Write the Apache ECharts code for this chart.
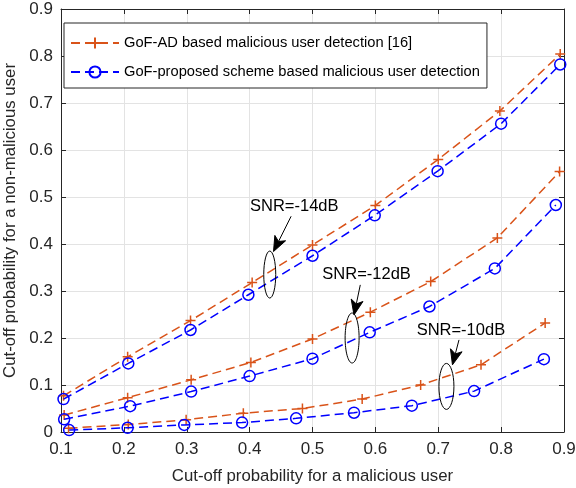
<!DOCTYPE html>
<html>
<head>
<meta charset="utf-8">
<script src="https://cdn.jsdelivr.net/npm/echarts@6/dist/echarts.min.js"></script>
<style>
  html, body { margin: 0; padding: 0; background: #fff; overflow: hidden; }
  #chart { width: 576px; height: 488px; }
</style>
</head>
<body>
<div id="chart"></div>
<script>
// ---- Data ----
const seriesNames = [
  'GoF-AD based malicious user detection [16]',
  'GoF-proposed scheme based malicious user detection'
];
const xTicks = ['0.1','0.2','0.3','0.4','0.5','0.6','0.7','0.8','0.9'];
const yTicks = ['0','0.1','0.2','0.3','0.4','0.5','0.6','0.7','0.8','0.9'];

// SNR = -14 dB
const adX14 = [0.104, 0.206, 0.306, 0.404, 0.500, 0.600, 0.700, 0.798, 0.894];
const adY14 = [0.077, 0.160, 0.237, 0.318, 0.398, 0.482, 0.580, 0.683, 0.804];
const prX14 = [0.104, 0.207, 0.306, 0.398, 0.500, 0.599, 0.699, 0.800, 0.894];
const prY14 = [0.070, 0.146, 0.217, 0.292, 0.375, 0.461, 0.555, 0.656, 0.782];
// SNR = -12 dB
const adX12 = [0.105, 0.206, 0.307, 0.402, 0.500, 0.592, 0.688, 0.794, 0.893];
const adY12 = [0.036, 0.073, 0.111, 0.148, 0.198, 0.255, 0.320, 0.413, 0.554];
const prX12 = [0.105, 0.210, 0.307, 0.400, 0.500, 0.591, 0.686, 0.790, 0.887];
const prY12 = [0.027, 0.055, 0.086, 0.119, 0.156, 0.212, 0.267, 0.348, 0.483];
// SNR = -10 dB
const adX10 = [0.112, 0.207, 0.299, 0.390, 0.484, 0.579, 0.672, 0.768, 0.870];
const adY10 = [0.008, 0.016, 0.026, 0.040, 0.050, 0.070, 0.100, 0.143, 0.232];
const prX10 = [0.113, 0.206, 0.296, 0.388, 0.474, 0.566, 0.658, 0.757, 0.868];
const prY10 = [0.004, 0.009, 0.015, 0.020, 0.029, 0.041, 0.056, 0.087, 0.155];

// Annotation labels and anchor points (data coordinates)
const annotations = [
  { text: 'SNR=-14dB', tx: 0.471, ty: 0.480, ex: 0.432, ey: 0.335, rx: 6, ry: 23.5, ax0: 0.466, ay0: 0.459, ax1: 0.438, ay1: 0.384 },
  { text: 'SNR=-12dB', tx: 0.586, ty: 0.335, ex: 0.563, ey: 0.200, rx: 7, ry: 25, ax0: 0.576, ay0: 0.313, ax1: 0.566, ay1: 0.249 },
  { text: 'SNR=-10dB', tx: 0.736, ty: 0.217, ex: 0.713, ey: 0.097, rx: 7.5, ry: 23, ax0: 0.733, ay0: 0.196, ax1: 0.7226, ay1: 0.143 }
];

const ORANGE = '#D95319';
const BLUE = '#0000FF';
const AXIS = '#262626';
const FONT = '"Liberation Sans", Arial, Helvetica, sans-serif';
const PLUS = 'path://M0,5L10,5M5,0L5,10';

function zip(xs, ys) { return xs.map((x, i) => [x, ys[i]]); }

function mkSeries(name, xs, ys, isAD) {
  const color = isAD ? ORANGE : BLUE;
  return {
    type: 'line',
    name: name,
    data: zip(xs, ys),
    symbol: isAD ? PLUS : 'circle',
    symbolSize: isAD ? 10 : 11,
    showSymbol: true,
    lineStyle: { color: color, width: 1.5, type: [9, 5] },
    itemStyle: isAD
      ? { color: color, borderColor: color, borderWidth: 1.5 }
      : { color: 'transparent', borderColor: color, borderWidth: 1.5 },
    emphasis: { disabled: true },
    animation: false,
    z: isAD ? 3 : 4
  };
}

const chart = echarts.init(document.getElementById('chart'), null, { renderer: 'canvas' });
const fmt = v => (Math.round(v * 10) / 10).toString();

const option = {
  animation: false,
  backgroundColor: '#fff',
  textStyle: { fontFamily: FONT },
  grid: { left: 61, right: 12, top: 9, bottom: 56, containLabel: false, outerBoundsMode: 'none' },
  legend: {
    left: 64, top: 23,
    orient: 'vertical',
    data: seriesNames,
    itemWidth: 48, itemHeight: 14, itemGap: 9,
    padding: [10, 7, 6, 6],
    backgroundColor: '#fff',
    borderColor: AXIS, borderWidth: 1, borderRadius: 0,
    textStyle: { fontSize: 14.7, color: '#000', fontFamily: FONT, lineHeight: 20 },
    selectedMode: false
  },
  xAxis: [{
    type: 'value', min: 0.1, max: 0.9, interval: 0.1,
    name: 'Cut-off probability for a malicious user',
    nameLocation: 'middle', nameGap: 36,
    nameTextStyle: { fontSize: 16.8, color: AXIS, fontFamily: FONT },
    axisLine: { show: true, onZero: false, lineStyle: { color: AXIS, width: 1 } },
    axisTick: { show: true, inside: true, length: 5, lineStyle: { color: AXIS } },
    axisLabel: { fontSize: 17, color: AXIS, margin: 9, formatter: v => xTicks[Math.round((v - 0.1) * 10)] || fmt(v) },
    splitLine: { show: true, lineStyle: { color: '#e3e3e3', width: 1 } }
  }, {
    type: 'value', min: 0.1, max: 0.9, interval: 0.1, position: 'top',
    axisLine: { show: true, onZero: false, lineStyle: { color: AXIS, width: 1 } },
    axisTick: { show: true, inside: true, length: 5, lineStyle: { color: AXIS } },
    axisLabel: { show: false }, splitLine: { show: false }
  }],
  yAxis: [{
    type: 'value', min: 0, max: 0.9, interval: 0.1,
    name: 'Cut-off probability for a non-malicious user',
    nameLocation: 'middle', nameGap: 31,
    nameTextStyle: { fontSize: 16.8, color: AXIS, fontFamily: FONT },
    axisLine: { show: true, onZero: false, lineStyle: { color: AXIS, width: 1 } },
    axisTick: { show: true, inside: true, length: 5, lineStyle: { color: AXIS } },
    axisLabel: { fontSize: 17, color: AXIS, margin: 8, formatter: v => yTicks[Math.round(v * 10)] || fmt(v) },
    splitLine: { show: true, lineStyle: { color: '#e3e3e3', width: 1 } }
  }, {
    type: 'value', min: 0, max: 0.9, interval: 0.1, position: 'right',
    axisLine: { show: true, onZero: false, lineStyle: { color: AXIS, width: 1 } },
    axisTick: { show: true, inside: true, length: 5, lineStyle: { color: AXIS } },
    axisLabel: { show: false }, splitLine: { show: false }
  }],
  series: [
    mkSeries(seriesNames[0], adX14, adY14, true),
    mkSeries(seriesNames[1], prX14, prY14, false),
    mkSeries(seriesNames[0], adX12, adY12, true),
    mkSeries(seriesNames[1], prX12, prY12, false),
    mkSeries(seriesNames[0], adX10, adY10, true),
    mkSeries(seriesNames[1], prX10, prY10, false)
  ]
};
chart.setOption(option);

// ---- Annotations (ellipse + arrow + label), placed via the axis scales ----
const toPx = (x, y) => chart.convertToPixel({ xAxisIndex: 0, yAxisIndex: 0 }, [x, y]);
const elems = [];
annotations.forEach(a => {
  const t = toPx(a.tx, a.ty);
  const e = toPx(a.ex, a.ey);
  const s = toPx(a.ax0, a.ay0);
  const h = toPx(a.ax1, a.ay1);
  const dx = h[0] - s[0], dy = h[1] - s[1];
  const L = Math.sqrt(dx * dx + dy * dy);
  const ux = dx / L, uy = dy / L;
  const nx = -uy, ny = ux;
  const HL = 15, HW = 6;
  const bx = h[0] - ux * HL, by = h[1] - uy * HL;
  const mx = h[0] - ux * HL * 0.75, my = h[1] - uy * HL * 0.75;
  elems.push({
    type: 'text', z: 100,
    style: { text: a.text, x: t[0], y: t[1], align: 'center', verticalAlign: 'middle',
             fontSize: 16.5, fontFamily: FONT, fill: '#000' }
  });
  elems.push({
    type: 'ellipse', z: 100,
    shape: { cx: e[0], cy: e[1], rx: a.rx, ry: a.ry },
    style: { fill: 'none', stroke: '#000', lineWidth: 1 }
  });
  elems.push({
    type: 'line', z: 100,
    shape: { x1: s[0], y1: s[1], x2: mx, y2: my },
    style: { stroke: '#000', lineWidth: 1 }
  });
  elems.push({
    type: 'polygon', z: 100,
    shape: { points: [[h[0], h[1]], [bx + nx * HW, by + ny * HW], [mx, my], [bx - nx * HW, by - ny * HW]] },
    style: { fill: '#000', stroke: '#000', lineWidth: 1 }
  });
});
chart.setOption({ graphic: elems });
</script>
</body>
</html>
